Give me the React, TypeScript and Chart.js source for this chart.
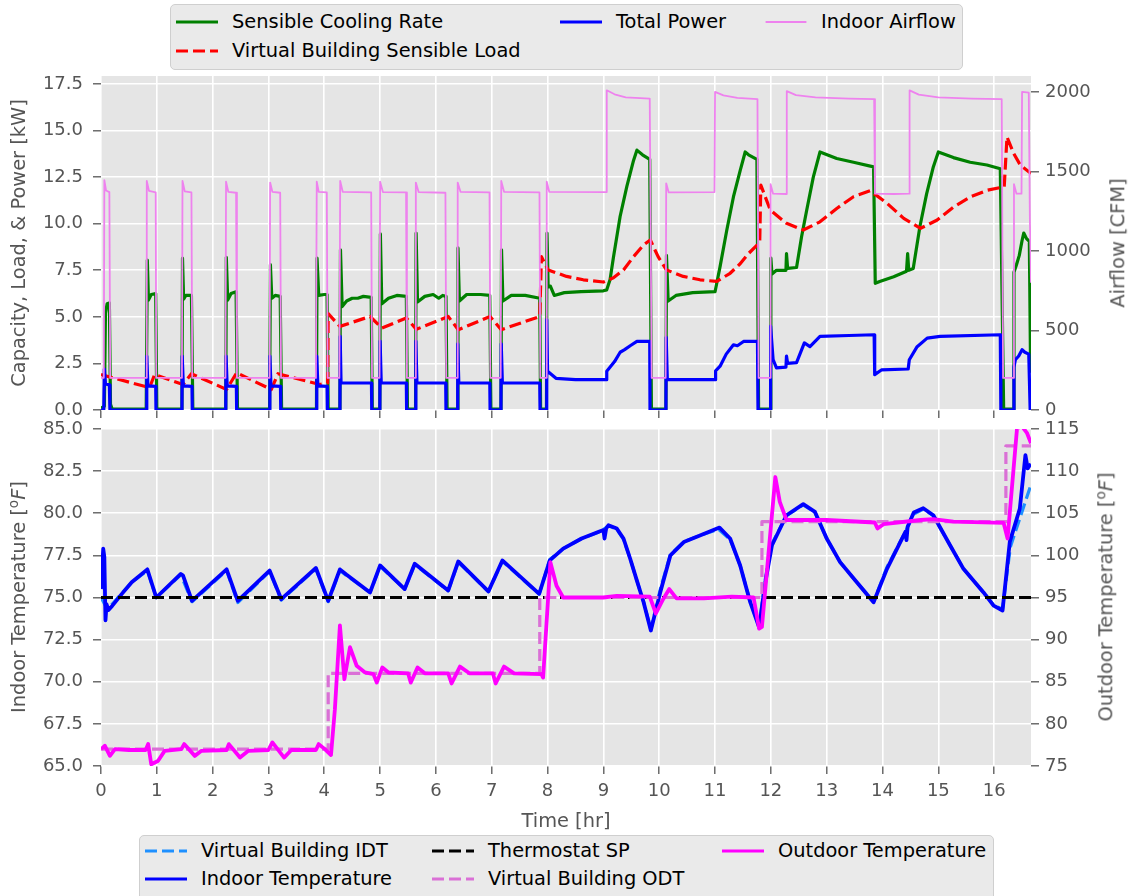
import React, { useEffect, useRef } from 'react';
import { Chart, registerables } from 'chart.js';

Chart.register(...registerables);

type P = [number, number];

// ---------- Data (time in hours) ----------
const sensibleCooling: P[] = [
  [0.00, 0.10], [0.06, 0.20], [0.08, 5.20], [0.11, 5.70], [0.15, 5.75], [0.17, 0.30], [0.20, 0.05],
  [0.81, 0.05], [0.83, 8.05], [0.85, 5.90], [0.90, 6.20], [0.98, 6.25], [1.00, 0.05],
  [1.45, 0.05], [1.46, 8.15], [1.48, 5.95], [1.52, 6.15], [1.62, 6.15], [1.645, 0.05],
  [2.235, 0.05], [2.245, 8.20], [2.27, 5.90], [2.33, 6.25], [2.42, 6.35], [2.445, 0.05],
  [3.02, 0.05], [3.035, 7.80], [3.06, 6.00], [3.12, 6.15], [3.21, 6.10], [3.235, 0.05],
  [3.86, 0.05], [3.87, 8.15], [3.90, 6.15], [4.00, 6.20], [4.05, 6.20], [4.07, 0.05],
  [4.28, 0.05], [4.29, 8.60], [4.32, 5.55], [4.40, 5.85], [4.50, 6.00], [4.60, 6.00], [4.70, 6.10], [4.84, 6.05], [4.86, 0.05],
  [4.995, 0.05], [5.005, 9.45], [5.03, 5.70], [5.15, 6.00], [5.30, 6.15], [5.47, 6.10], [5.49, 0.05],
  [5.635, 0.05], [5.645, 9.50], [5.67, 5.80], [5.80, 6.10], [5.95, 6.20], [6.05, 6.00], [6.12, 6.15], [6.18, 6.10], [6.20, 0.05],
  [6.385, 0.05], [6.395, 8.70], [6.42, 5.85], [6.55, 6.20], [6.80, 6.20], [6.965, 6.15], [6.985, 0.05],
  [7.165, 0.05], [7.175, 8.60], [7.20, 5.85], [7.35, 6.15], [7.60, 6.15], [7.86, 6.00], [7.875, 0.05],
  [7.98, 0.05], [7.99, 9.50], [8.01, 6.60], [8.05, 6.65], [8.12, 6.15], [8.30, 6.30], [8.60, 6.35], [9.00, 6.40], [9.06, 6.45],
  [9.12, 7.00], [9.18, 8.20], [9.30, 10.40], [9.42, 12.00], [9.54, 13.40], [9.60, 13.95], [9.70, 13.70], [9.83, 13.45], [9.86, 0.05],
  [10.12, 0.05], [10.13, 8.30], [10.16, 5.85], [10.30, 6.15], [10.60, 6.30], [11.00, 6.35], [11.09, 7.70], [11.21, 9.65],
  [11.33, 11.45], [11.45, 12.85], [11.54, 13.85], [11.60, 13.70], [11.75, 13.45], [11.78, 0.05],
  [11.99, 0.05], [12.00, 8.15], [12.02, 7.30], [12.10, 7.50], [12.27, 7.50], [12.28, 8.40], [12.30, 7.60], [12.46, 7.65],
  [12.55, 9.30], [12.64, 10.70], [12.76, 12.50], [12.88, 13.85], [13.18, 13.50], [13.48, 13.30], [13.84, 13.05], [13.87, 6.80],
  [13.95, 6.90], [14.20, 7.15], [14.43, 7.45], [14.45, 8.40], [14.47, 7.50], [14.55, 7.60], [14.67, 9.85], [14.79, 11.60],
  [14.91, 13.05], [15.00, 13.85], [15.27, 13.55], [15.57, 13.30], [15.87, 13.15], [16.11, 12.95], [16.17, 0.05],
  [16.345, 0.05], [16.355, 7.40], [16.40, 7.80], [16.45, 8.30], [16.50, 9.10], [16.53, 9.50], [16.58, 9.20], [16.63, 9.05], [16.65, 3.00], [16.66, 2.00],
];

const sensibleLoad: P[] = [
  [0.00, 1.90], [0.87, 1.20], [0.96, 1.90], [1.47, 1.37], [1.62, 1.95], [2.25, 1.10], [2.43, 2.00], [3.05, 1.10],
  [3.17, 1.95], [3.92, 1.37], [4.06, 1.45], [4.07, 5.17], [4.28, 4.49], [4.82, 5.02], [5.03, 4.40], [5.47, 4.94],
  [5.65, 4.33], [6.22, 5.02], [6.40, 4.31], [6.97, 5.02], [7.17, 4.31], [7.86, 5.02], [7.89, 8.23], [8.01, 7.52],
  [8.34, 7.17], [8.64, 6.99], [9.00, 6.87], [9.18, 7.10], [9.36, 7.52], [9.54, 8.23], [9.72, 8.86], [9.84, 9.13],
  [9.98, 8.23], [10.13, 7.52], [10.43, 7.17], [10.73, 6.99], [11.03, 6.90], [11.27, 7.34], [11.45, 7.85], [11.60, 8.40],
  [11.80, 9.00], [11.82, 12.07], [11.99, 10.73], [12.28, 10.02], [12.58, 9.66], [12.88, 10.10], [13.18, 10.82],
  [13.48, 11.45], [13.78, 11.77], [14.08, 11.10], [14.38, 10.29], [14.68, 9.75], [14.98, 10.20], [15.28, 10.91],
  [15.58, 11.45], [15.88, 11.80], [16.18, 11.98], [16.23, 14.66], [16.35, 13.77], [16.47, 13.14], [16.66, 12.70],
];

const totalPower: P[] = [
  [0.00, 0.00], [0.05, 0.00], [0.06, 2.20], [0.08, 1.40], [0.15, 1.35], [0.16, 0.00],
  [0.81, 0.00], [0.82, 2.90], [0.84, 1.30], [0.98, 1.27], [0.985, 0.00],
  [1.45, 0.00], [1.455, 2.90], [1.475, 1.30], [1.63, 1.27], [1.635, 0.00],
  [2.235, 0.00], [2.24, 2.90], [2.26, 1.30], [2.425, 1.27], [2.43, 0.00],
  [3.02, 0.00], [3.025, 2.90], [3.045, 1.30], [3.215, 1.27], [3.22, 0.00],
  [3.86, 0.00], [3.865, 2.90], [3.885, 1.30], [4.05, 1.27], [4.055, 0.00],
  [4.28, 0.00], [4.285, 3.95], [4.30, 1.45], [4.845, 1.45], [4.85, 0.00],
  [4.995, 0.00], [5.00, 3.70], [5.02, 1.45], [5.47, 1.45], [5.475, 0.00],
  [5.635, 0.00], [5.64, 3.70], [5.66, 1.45], [6.175, 1.45], [6.18, 0.00],
  [6.385, 0.00], [6.39, 3.55], [6.41, 1.45], [6.965, 1.45], [6.97, 0.00],
  [7.165, 0.00], [7.17, 3.55], [7.19, 1.45], [7.86, 1.45], [7.865, 0.00],
  [7.98, 0.00], [7.985, 4.85], [8.00, 2.08], [8.15, 1.70], [8.50, 1.63], [9.05, 1.63], [9.06, 2.08], [9.20, 2.60],
  [9.30, 3.10], [9.38, 3.24], [9.48, 3.45], [9.60, 3.68], [9.83, 3.68], [9.835, 0.00],
  [10.12, 0.00], [10.125, 3.90], [10.145, 1.63], [11.00, 1.63], [11.01, 2.10], [11.09, 2.35], [11.20, 3.00],
  [11.33, 3.50], [11.40, 3.45], [11.51, 3.68], [11.76, 3.68], [11.77, 0.00],
  [11.99, 0.00], [11.995, 4.50], [12.04, 2.70], [12.10, 2.26], [12.27, 2.30], [12.28, 2.90], [12.30, 2.50], [12.46, 2.54],
  [12.60, 3.60], [12.70, 3.40], [12.88, 3.95], [13.40, 4.00], [13.85, 4.04], [13.86, 1.90], [13.98, 2.15], [14.46, 2.20],
  [14.48, 2.70], [14.62, 3.40], [14.80, 3.86], [15.03, 3.95], [16.11, 4.04], [16.12, 0.00],
  [16.345, 0.00], [16.355, 2.30], [16.38, 2.70], [16.44, 2.90], [16.50, 3.24], [16.55, 3.10], [16.62, 3.00], [16.645, 0.00], [16.66, 0.00],
];

const indoorAirflow: P[] = [
  [0.00, 202], [0.05, 202], [0.06, 1445], [0.09, 1380], [0.15, 1370], [0.165, 202],
  [0.81, 202], [0.82, 1440], [0.86, 1378], [0.98, 1368], [0.99, 202],
  [1.45, 202], [1.46, 1440], [1.50, 1375], [1.62, 1368], [1.635, 202],
  [2.23, 202], [2.24, 1435], [2.28, 1372], [2.42, 1366], [2.435, 202],
  [3.02, 202], [3.03, 1430], [3.07, 1372], [3.21, 1366], [3.225, 202],
  [3.85, 202], [3.865, 1435], [3.90, 1372], [4.045, 1368], [4.06, 202],
  [4.27, 202], [4.285, 1440], [4.33, 1372], [4.84, 1368], [4.855, 202],
  [4.99, 202], [5.00, 1435], [5.05, 1370], [5.465, 1368], [5.48, 202],
  [5.63, 202], [5.64, 1430], [5.69, 1370], [6.17, 1366], [6.185, 202],
  [6.38, 202], [6.39, 1430], [6.44, 1372], [6.96, 1368], [6.975, 202],
  [7.16, 202], [7.17, 1440], [7.22, 1372], [7.855, 1368], [7.87, 202],
  [7.975, 202], [7.985, 1435], [8.03, 1372], [9.05, 1370], [9.06, 2010], [9.20, 1985], [9.40, 1965], [9.83, 1958], [9.865, 202],
  [10.115, 202], [10.125, 1425], [10.17, 1368], [10.99, 1370], [11.00, 2000], [11.15, 1978], [11.40, 1962], [11.76, 1955], [11.78, 202],
  [11.985, 202], [11.995, 1420], [12.04, 1360], [12.275, 1358], [12.285, 2005], [12.45, 1980], [12.80, 1965], [13.40, 1958],
  [13.85, 1955], [13.865, 1360], [14.20, 1358], [14.475, 1360], [14.485, 2010], [14.65, 1983], [15.00, 1965], [15.60, 1958],
  [16.135, 1955], [16.16, 202],
  [16.345, 202], [16.355, 1420], [16.40, 1360], [16.49, 1360], [16.50, 2000], [16.62, 1995], [16.64, 1200], [16.66, 800],
];

const virtualIDT: P[] = [
  [0.00, 75.0], [0.10, 74.4], [0.20, 74.6], [0.37, 75.25], [0.55, 75.9], [0.83, 76.6], [0.99, 75.0], [1.43, 76.35],
  [1.63, 74.75], [2.25, 76.6], [2.45, 74.7], [3.02, 76.55], [3.23, 74.85], [3.85, 76.7], [4.07, 74.75], [4.28, 76.6],
  [4.40, 76.3], [4.82, 75.3], [5.00, 76.85], [5.44, 75.5], [5.62, 76.95], [6.22, 75.4], [6.40, 77.1], [6.94, 75.35],
  [7.19, 77.15], [7.85, 75.2], [8.04, 77.25], [8.28, 77.9], [8.61, 78.5], [8.94, 78.9], [9.09, 79.25], [9.24, 79.05],
  [9.36, 78.45], [9.48, 77.3], [9.60, 76.0], [9.72, 74.75], [9.85, 73.1], [10.02, 75.5], [10.20, 77.55], [10.44, 78.3],
  [10.74, 78.7], [11.06, 79.05], [11.27, 78.45], [11.45, 76.9], [11.63, 74.75], [11.79, 73.3], [11.90, 76.1], [12.02, 78.2],
  [12.28, 79.85], [12.58, 80.5], [12.79, 80.05], [13.00, 78.5], [13.24, 77.1], [13.54, 75.9], [13.84, 74.75], [14.08, 76.8],
  [14.41, 78.9], [14.56, 79.95], [14.73, 80.25], [14.91, 79.85], [15.21, 78.1], [15.45, 76.7], [15.81, 75.3], [15.99, 74.55],
  [16.15, 74.3], [16.29, 78.0], [16.46, 79.7], [16.64, 81.5], [16.66, 81.7],
];

const indoorTemp: P[] = [
  [0.00, 75.5], [0.04, 77.9], [0.06, 77.4], [0.08, 73.65], [0.10, 74.6], [0.13, 74.25], [0.20, 74.5], [0.37, 75.2],
  [0.55, 75.9], [0.83, 76.67], [0.99, 75.0], [1.43, 76.4], [1.47, 76.3], [1.63, 74.8], [2.25, 76.67], [2.45, 74.8],
  [3.02, 76.6], [3.23, 74.9], [3.85, 76.75], [4.07, 74.8], [4.28, 76.67], [4.40, 76.35], [4.82, 75.3], [5.00, 76.9],
  [5.44, 75.5], [5.62, 77.0], [6.22, 75.42], [6.40, 77.14], [6.94, 75.36], [7.19, 77.2], [7.85, 75.22], [8.04, 77.2],
  [8.28, 77.9], [8.61, 78.5], [8.94, 78.93], [9.00, 79.0], [9.02, 78.5], [9.05, 79.1], [9.09, 79.29], [9.24, 79.09],
  [9.36, 78.5], [9.48, 77.3], [9.60, 76.0], [9.72, 74.72], [9.85, 73.04], [10.02, 75.32], [10.20, 77.5], [10.44, 78.29],
  [10.74, 78.69], [11.08, 79.15], [11.27, 78.5], [11.45, 76.9], [11.63, 74.72], [11.79, 73.23], [11.90, 75.9], [12.02, 78.1],
  [12.28, 79.88], [12.58, 80.54], [12.79, 80.08], [13.00, 78.5], [13.24, 77.1], [13.54, 75.9], [13.84, 74.72], [14.08, 76.7],
  [14.41, 78.9], [14.43, 78.4], [14.45, 79.2], [14.56, 80.04], [14.73, 80.3], [14.91, 79.88], [15.21, 78.1], [15.45, 76.7],
  [15.81, 75.3], [15.99, 74.52], [16.15, 74.23], [16.28, 78.3], [16.46, 80.28], [16.56, 83.45], [16.60, 82.66], [16.64, 82.86], [16.66, 82.9],
];

const thermostatSP: P[] = [[0.00, 75.0], [16.66, 75.0]];

const virtualODT: P[] = [
  [0.00, 77], [4.07, 77], [4.07, 86], [7.86, 86], [7.86, 95], [11.84, 95], [11.84, 104], [16.21, 104], [16.21, 113], [16.66, 113],
];

const outdoorTemp: P[] = [
  [0.00, 77.0], [0.07, 77.4], [0.16, 76.2], [0.25, 77.0], [0.50, 76.9], [0.80, 76.9], [0.845, 77.6], [0.90, 75.2],
  [1.02, 75.6], [1.14, 76.8], [1.44, 77.0], [1.49, 77.6], [1.68, 76.2], [1.80, 76.8], [2.25, 76.9], [2.29, 77.6],
  [2.49, 76.0], [2.64, 76.8], [3.00, 76.9], [3.07, 77.8], [3.28, 76.0], [3.41, 76.9], [3.85, 76.9], [3.90, 77.6],
  [4.01, 77.0], [4.12, 76.3], [4.19, 81.75], [4.28, 91.7], [4.36, 85.3], [4.46, 89.1], [4.58, 86.9], [4.73, 86.1],
  [4.88, 85.9], [4.94, 84.9], [5.04, 86.7], [5.15, 86.1], [5.50, 86.0], [5.55, 84.9], [5.67, 86.7], [5.80, 86.0],
  [6.22, 86.0], [6.28, 84.8], [6.43, 86.8], [6.60, 86.0], [7.02, 86.0], [7.07, 84.8], [7.22, 86.8], [7.40, 86.0],
  [7.89, 85.9], [7.92, 85.5], [8.05, 99.2], [8.16, 96.4], [8.28, 95.0], [9.00, 95.0], [9.24, 95.2], [9.83, 95.1],
  [9.94, 93.1], [10.07, 94.8], [10.18, 96.0], [10.31, 94.9], [10.80, 94.9], [11.30, 95.1], [11.69, 95.0], [11.79, 91.3],
  [11.84, 91.5], [12.08, 109.3], [12.16, 106.35], [12.28, 104.2], [13.00, 104.2], [13.86, 103.9], [13.91, 103.2],
  [14.02, 103.7], [14.68, 104.2], [14.91, 104.3], [15.27, 104.0], [16.17, 103.85], [16.24, 102.0], [16.41, 115.1],
  [16.50, 115.3], [16.59, 114.5], [16.66, 113.3],
];

// axis ranges and tick values
const timeRange: [number, number] = [0, 16.66];
const powerRange: [number, number] = [0, 17.93];
const airflowRange: [number, number] = [0, 2100];
const indoorRange: [number, number] = [65, 85];
const outdoorRange: [number, number] = [75, 115];
const timeTicks = [0, 1, 2, 3, 4, 5, 6, 7, 8, 9, 10, 11, 12, 13, 14, 15, 16];
const powerTicks = [0, 2.5, 5, 7.5, 10, 12.5, 15, 17.5];
const airflowTicks = [0, 500, 1000, 1500, 2000];
const indoorTicks = [65, 67.5, 70, 72.5, 75, 77.5, 80, 82.5, 85];
const outdoorTicks = [75, 80, 85, 90, 95, 100, 105, 110, 115];

// ---------- Styling helpers ----------
const FONT = "'DejaVu Sans', 'Noto Sans', sans-serif";
const TICK_COLOR = '#555555';
const DASH = [12, 5];

const bgPlugin = {
  id: 'plotBg',
  beforeDraw(chart: any) {
    const { ctx, chartArea: a } = chart;
    ctx.save();
    ctx.fillStyle = '#E5E5E5';
    ctx.fillRect(a.left, a.top, a.right - a.left, a.bottom - a.top);
    ctx.restore();
  },
};

const toXY = (arr: P[]) => arr.map(([x, y]) => ({ x, y }));

function line(label: string, data: P[], color: string, width: number, dash: number[], axis: string, order: number) {
  return {
    label,
    data: toXY(data),
    borderColor: color,
    backgroundColor: color,
    borderWidth: width,
    borderDash: dash,
    borderJoinStyle: 'round' as const,
    borderCapStyle: 'butt' as const,
    pointRadius: 0,
    tension: 0,
    fill: false,
    yAxisID: axis,
    order,
    clip: 0,
  };
}

const gridOpts = { color: '#FFFFFF', lineWidth: 1.6, tickColor: TICK_COLOR, tickLength: 8, tickWidth: 1.3 };
const tickFont = { family: FONT, size: 18 };
const setTicks = (vals: number[]) => (s: any) => { s.ticks = vals.map((v) => ({ value: v })); };

function xScale(showLabels: boolean, height: number) {
  return {
    type: 'linear',
    min: timeRange[0],
    max: timeRange[1],
    grid: gridOpts,
    border: { display: false },
    ticks: { display: showLabels, color: TICK_COLOR, font: tickFont, padding: 7, maxRotation: 0, autoSkip: false, callback: (v: number) => String(v) },
    afterBuildTicks: setTicks(timeTicks),
    afterFit: (s: any) => { s.height = height; s.paddingLeft = 0; s.paddingRight = 0; },
  };
}

function yScale(pos: 'left' | 'right', range: [number, number], vals: number[], decimals: number, width: number, grid: boolean) {
  return {
    type: 'linear',
    position: pos,
    min: range[0],
    max: range[1],
    grid: { ...gridOpts, drawOnChartArea: grid },
    border: { display: false },
    ticks: {
      color: TICK_COLOR, font: tickFont, autoSkip: false,
      padding: pos === 'left' ? 10 : 6,
      callback: (v: number) => v.toFixed(decimals),
    },
    afterBuildTicks: setTicks(vals),
    afterFit: (s: any) => { s.width = width; s.paddingTop = 0; s.paddingBottom = 0; },
  };
}

const baseOptions = {
  animation: false,
  responsive: false,
  devicePixelRatio: 1,
  events: [],
  plugins: { legend: { display: false }, tooltip: { enabled: false } },
};

// ---------- HTML pieces ----------
type LegendItem = { label: string; color: string; width: number; dash?: number[]; x: number; y: number };

function LegendBox({ left, top, width, height, items }: { left: number; top: number; width: number; height: number; items: LegendItem[] }) {
  return (
    <>
      <div style={{ position: 'absolute', left, top, width, height, background: '#EAEAEA', border: '1px solid #CFCFCF', borderRadius: 5, boxSizing: 'border-box' }} />
      {items.map((it) => (
        <React.Fragment key={it.label}>
          <svg width={44} height={14} style={{ position: 'absolute', left: it.x - 1, top: it.y - 7 }}>
            <line x1={it.dash ? 1 : 2.5} y1={7} x2={it.dash ? 43 : 41.5} y2={7} stroke={it.color} strokeWidth={it.width}
              strokeDasharray={it.dash ? it.dash.join(' ') : undefined} strokeLinecap={it.dash ? 'butt' : 'square'} />
          </svg>
          <div style={{ position: 'absolute', left: it.x + 56, top: it.y, transform: 'translateY(-50%)', fontSize: 19.4, lineHeight: 1, color: '#000', whiteSpace: 'nowrap', fontFamily: FONT }}>
            {it.label}
          </div>
        </React.Fragment>
      ))}
    </>
  );
}

function VTitle({ x, y, children }: { x: number; y: number; children: React.ReactNode }) {
  return (
    <div style={{ position: 'absolute', left: x, top: y, transform: 'translate(-50%, -50%) rotate(-90deg)', whiteSpace: 'nowrap', fontSize: 19.4, lineHeight: 1, color: TICK_COLOR, fontFamily: FONT }}>
      {children}
    </div>
  );
}

const degF = (
  <>[<sup style={{ fontSize: '0.7em', verticalAlign: '0.55em', lineHeight: 0 }}>o</sup><i>F</i>]</>
);

export default function App() {
  const topRef = useRef<HTMLCanvasElement>(null);
  const botRef = useRef<HTMLCanvasElement>(null);

  useEffect(() => {
    Chart.defaults.font.family = FONT;
    const top = new Chart(topRef.current as HTMLCanvasElement, {
      type: 'line',
      data: {
        datasets: [
          line('Sensible Cooling Rate', sensibleCooling, '#008000', 3.2, [], 'y', 3),
          line('Virtual Building Sensible Load', sensibleLoad, '#FF0000', 3.2, DASH, 'y', 2),
          line('Total Power', totalPower, '#0000FF', 3.2, [], 'y', 1),
          line('Indoor Airflow', indoorAirflow, '#EE82EE', 1.8, [], 'y1', 0),
        ],
      },
      options: {
        ...baseOptions,
        layout: { padding: { top: 76, left: 0, right: 0, bottom: 0 } },
        scales: {
          x: xScale(false, 15),
          y: yScale('left', powerRange, powerTicks, 1, 101, true),
          y1: yScale('right', airflowRange, airflowTicks, 0, 98, false),
        },
      } as any,
      plugins: [bgPlugin],
    } as any);

    const bot = new Chart(botRef.current as HTMLCanvasElement, {
      type: 'line',
      data: {
        datasets: [
          line('Virtual Building IDT', virtualIDT, '#1E90FF', 3.2, DASH, 'y', 4),
          line('Indoor Temperature', indoorTemp, '#0000FF', 3.8, [], 'y', 3),
          line('Thermostat SP', thermostatSP, '#000000', 3.2, DASH, 'y', 2),
          line('Virtual Building ODT', virtualODT, '#DA70D6', 3.2, DASH, 'y1', 1),
          line('Outdoor Temperature', outdoorTemp, '#FF00FF', 3.8, [], 'y1', 0),
        ],
      },
      options: {
        ...baseOptions,
        layout: { padding: { top: 29, left: 0, right: 0, bottom: 0 } },
        scales: {
          x: xScale(true, 69),
          y: yScale('left', indoorRange, indoorTicks, 1, 101, true),
          y1: yScale('right', outdoorRange, outdoorTicks, 0, 98, false),
        },
      } as any,
      plugins: [bgPlugin],
    } as any);

    return () => { top.destroy(); bot.destroy(); };
  }, []);

  const topItems: LegendItem[] = [
    { label: 'Sensible Cooling Rate', color: '#008000', width: 3, x: 176, y: 22 },
    { label: 'Virtual Building Sensible Load', color: '#FF0000', width: 3, dash: DASH, x: 176, y: 51 },
    { label: 'Total Power', color: '#0000FF', width: 3, x: 560, y: 22 },
    { label: 'Indoor Airflow', color: '#EE82EE', width: 1.8, x: 765, y: 22 },
  ];
  const botItems: LegendItem[] = [
    { label: 'Virtual Building IDT', color: '#1E90FF', width: 3, dash: DASH, x: 145, y: 851 },
    { label: 'Indoor Temperature', color: '#0000FF', width: 3, x: 145, y: 879 },
    { label: 'Thermostat SP', color: '#000000', width: 3, dash: DASH, x: 432, y: 851 },
    { label: 'Virtual Building ODT', color: '#DA70D6', width: 3, dash: DASH, x: 432, y: 879 },
    { label: 'Outdoor Temperature', color: '#FF00FF', width: 3, x: 722, y: 851 },
  ];

  return (
    <div style={{ position: 'absolute', left: 0, top: 0, width: 1129, height: 896, overflow: 'hidden', background: '#FFFFFF', fontFamily: FONT }}>
      <canvas ref={topRef} width={1129} height={425} style={{ position: 'absolute', left: 0, top: 0, width: 1129, height: 425 }} />
      <canvas ref={botRef} width={1129} height={435} style={{ position: 'absolute', left: 0, top: 400, width: 1129, height: 435 }} />
      <LegendBox left={170} top={4} width={793} height={66} items={topItems} />
      <LegendBox left={139} top={835} width={855} height={72} items={botItems} />
      <VTitle x={19} y={243}>Capacity, Load, &amp; Power [kW]</VTitle>
      <VTitle x={1118} y={243}>Airflow [CFM]</VTitle>
      <VTitle x={19} y={597}>Indoor Temperature {degF}</VTitle>
      <VTitle x={1106} y={597}>Outdoor Temperature {degF}</VTitle>
      <div style={{ position: 'absolute', left: 566, top: 821, transform: 'translate(-50%, -50%)', fontSize: 19.4, lineHeight: 1, color: TICK_COLOR, whiteSpace: 'nowrap', fontFamily: FONT }}>
        Time [hr]
      </div>
    </div>
  );
}
